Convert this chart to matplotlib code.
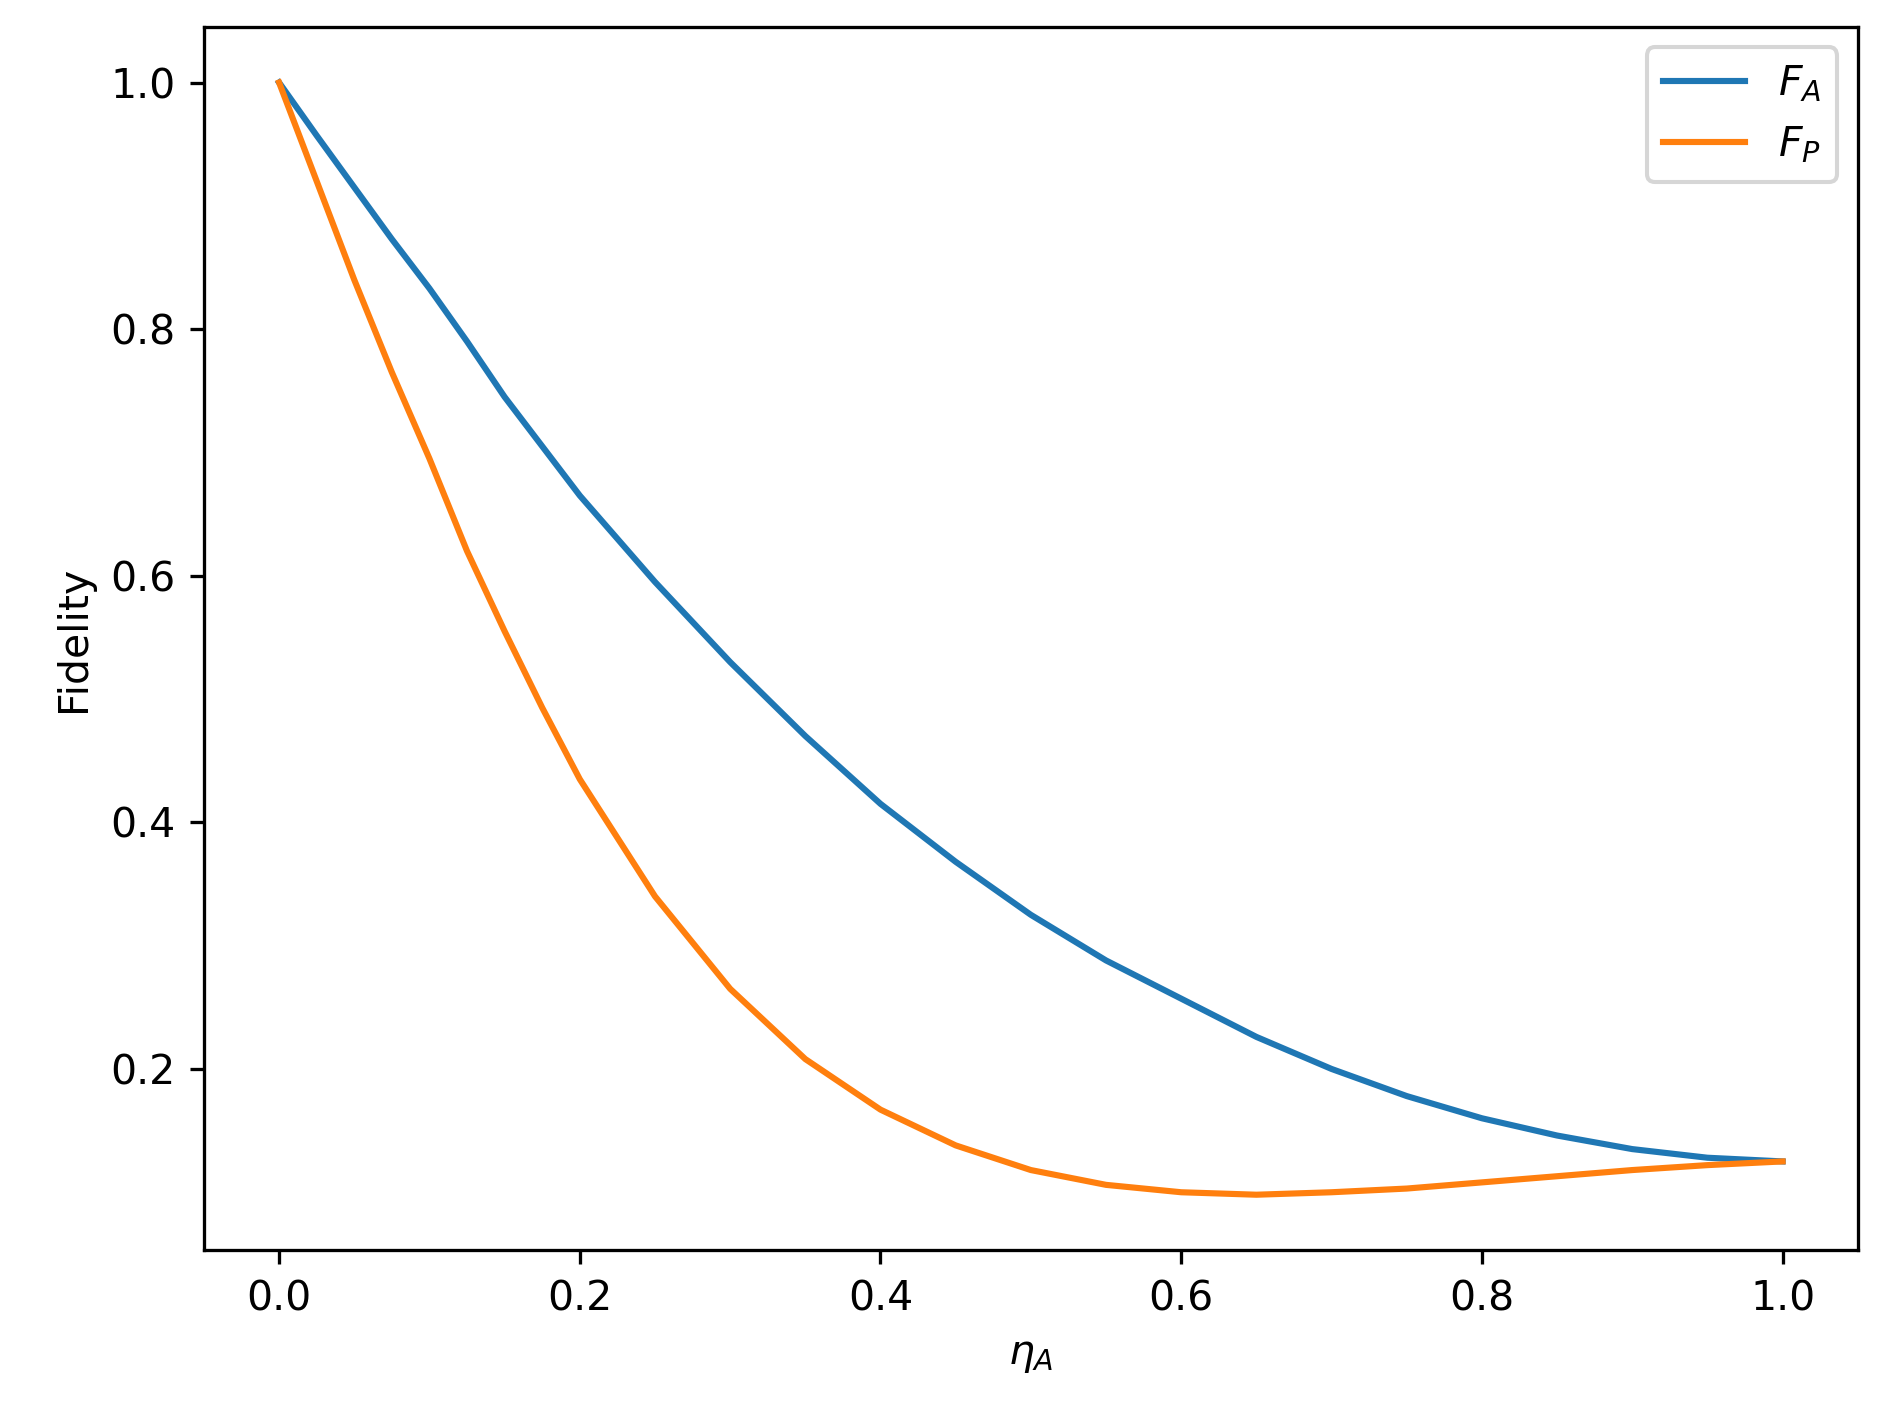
import numpy as np
import matplotlib
matplotlib.use("Agg")
import matplotlib.pyplot as plt

# values for each eta_A
eta = [0.0, 0.025, 0.05, 0.075, 0.1, 0.125, 0.15, 0.175, 0.2, 0.25, 0.3, 0.35,
       0.4, 0.45, 0.5, 0.55, 0.6, 0.65, 0.7, 0.75, 0.8, 0.85, 0.9, 0.95, 1.0]
F_A = [1.0, 0.957, 0.915, 0.873, 0.833, 0.79, 0.745, 0.705, 0.665, 0.595, 0.53,
       0.47, 0.415, 0.368, 0.325, 0.288, 0.257, 0.226, 0.2, 0.178, 0.16, 0.146,
       0.135, 0.128, 0.125]
F_P = [1.0, 0.92, 0.84, 0.765, 0.695, 0.62, 0.555, 0.493, 0.435, 0.34, 0.265,
       0.208, 0.167, 0.138, 0.118, 0.106, 0.1, 0.098, 0.1, 0.103, 0.108, 0.113,
       0.118, 0.122, 0.125]

fig, ax = plt.subplots(figsize=(6.4, 4.8), dpi=295)
fig.subplots_adjust(left=0.108, right=0.984, top=0.981, bottom=0.117)
ax.plot(eta, F_A, label=r'$F_A$')
ax.plot(eta, F_P, label=r'$F_P$')
ax.set_xlabel(r'$\eta_A$')
ax.set_ylabel('Fidelity')
ax.legend(loc='upper right')
fig.savefig('out.png')
